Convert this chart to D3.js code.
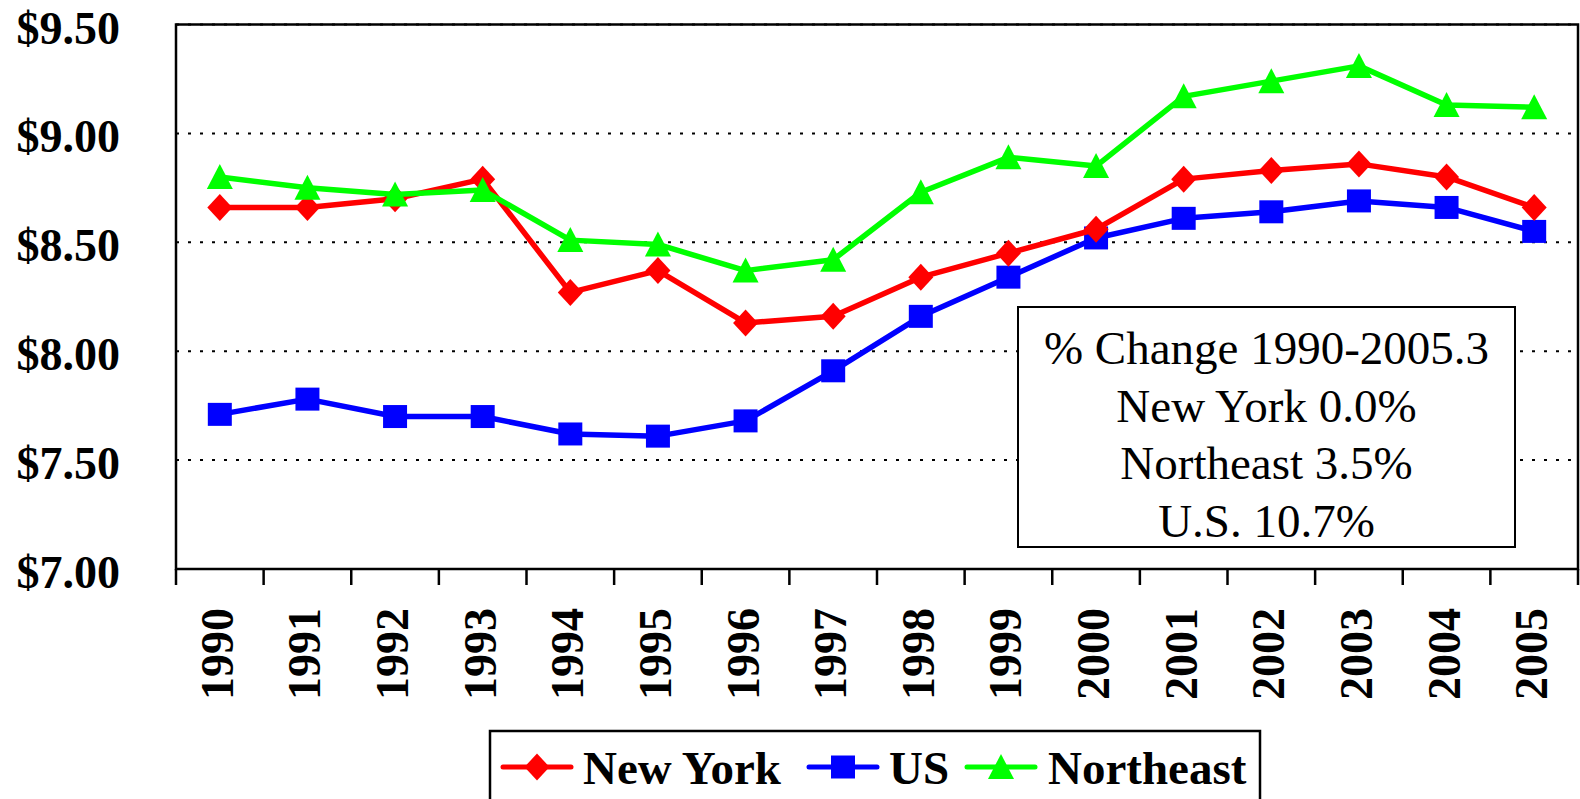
<!DOCTYPE html>
<html>
<head>
<meta charset="utf-8">
<script src="https://cdn.jsdelivr.net/npm/d3@7"></script>
<style>
  html, body { margin: 0; padding: 0; background: #fff; }
  svg { display: block; }
</style>
</head>
<body>
<svg id="chart" width="1580" height="799"></svg>
<script>
const years = ["1990","1991","1992","1993","1994","1995","1996","1997","1998","1999","2000","2001","2002","2003","2004","2005"];
const newYork   = [8.66, 8.66, 8.70, 8.79, 8.27, 8.37, 8.13, 8.16, 8.34, 8.45, 8.56, 8.79, 8.83, 8.86, 8.80, 8.66];
const us        = [7.71, 7.78, 7.70, 7.70, 7.62, 7.61, 7.68, 7.91, 8.16, 8.34, 8.52, 8.61, 8.64, 8.69, 8.66, 8.55];
const northeast = [8.80, 8.75, 8.72, 8.74, 8.51, 8.49, 8.37, 8.42, 8.73, 8.89, 8.85, 9.17, 9.24, 9.31, 9.13, 9.12];
const yTicks = [7.00, 7.50, 8.00, 8.50, 9.00, 9.50];
const seriesNames = ["New York", "US", "Northeast"];
const seriesColors = ["#FF0000", "#0000FF", "#00FF00"];
const seriesShapes = ["diamond", "square", "triangle"];
const noteLines = ["% Change 1990-2005.3", "New York 0.0%", "Northeast 3.5%", "U.S. 10.7%"];

const svg = d3.select("#chart");
const L = 176, R = 1578, T = 24.5, B = 569;

const x = d3.scaleBand().domain(years).range([L, R]).padding(0);
const y = d3.scaleLinear().domain([7, 9.5]).range([B, T]);

// gridlines (dotted)
svg.append("g").selectAll("line")
  .data(yTicks.filter(d => d > 7))
  .join("line")
  .attr("x1", L).attr("x2", R)
  .attr("y1", d => y(d)).attr("y2", d => y(d))
  .attr("stroke", "#000").attr("stroke-width", 2)
  .attr("stroke-dasharray", "3,9");

// plot border
svg.append("rect")
  .attr("x", L).attr("y", T).attr("width", R - L).attr("height", B - T)
  .attr("fill", "none").attr("stroke", "#000").attr("stroke-width", 2.5);

// x-axis tick marks at category boundaries
const bounds = years.map(d => x(d)).concat([R]);
svg.append("g").selectAll("line")
  .data(bounds)
  .join("line")
  .attr("x1", d => d).attr("x2", d => d)
  .attr("y1", B).attr("y2", B + 16)
  .attr("stroke", "#000").attr("stroke-width", 2.5);

// y-axis labels
svg.append("g").selectAll("text")
  .data(yTicks)
  .join("text")
  .attr("x", 120)
  .attr("y", d => y(d) + 19)
  .attr("text-anchor", "end")
  .attr("font-family", "'Liberation Serif', 'Times New Roman', serif")
  .attr("font-weight", "bold")
  .attr("font-size", 46)
  .text(d => "$" + d3.format(".2f")(d));

// x-axis labels (rotated)
svg.append("g").selectAll("text")
  .data(years)
  .join("text")
  .attr("transform", d => `translate(${x(d) + x.bandwidth() / 2 + 13},608) rotate(-90)`)
  .attr("text-anchor", "end")
  .attr("font-family", "'Liberation Serif', 'Times New Roman', serif")
  .attr("font-weight", "bold")
  .attr("font-size", 46)
  .text(d => d);

function markerPath(shape) {
  if (shape === "diamond") return "M0,-13.5L12.5,0L0,13.5L-12.5,0Z";
  if (shape === "square") return "M-12,-11.5L12,-11.5L12,11.5L-12,11.5Z";
  return "M0,-13L13,12L-13,12Z";
}

const data = [newYork, us, northeast];
const line = d3.line()
  .x((d, i) => x(years[i]) + x.bandwidth() / 2)
  .y(d => y(d));

// draw order: US, NY, Northeast
[1, 0, 2].forEach(si => {
  const vals = data[si];
  const g = svg.append("g");
  g.append("path")
    .datum(vals)
    .attr("d", line)
    .attr("fill", "none")
    .attr("stroke", seriesColors[si])
    .attr("stroke-width", 5.5)
    .attr("stroke-linejoin", "round");
  g.selectAll("path.m")
    .data(vals)
    .join("path")
    .attr("class", "m")
    .attr("d", markerPath(seriesShapes[si]))
    .attr("transform", (d, i) => `translate(${x(years[i]) + x.bandwidth() / 2},${y(d)})`)
    .attr("fill", seriesColors[si]);
});

// annotation box
const bx0 = 1018, bx1 = 1515, by0 = 307, by1 = 547;
svg.append("rect")
  .attr("x", bx0).attr("y", by0).attr("width", bx1 - bx0).attr("height", by1 - by0)
  .attr("fill", "#fff").attr("stroke", "#000").attr("stroke-width", 2);
svg.append("g").selectAll("text")
  .data(noteLines)
  .join("text")
  .attr("x", (bx0 + bx1) / 2)
  .attr("y", (d, i) => 364 + i * 57.5)
  .attr("text-anchor", "middle")
  .attr("font-family", "'Liberation Serif', 'Times New Roman', serif")
  .attr("font-size", 47)
  .text(d => d);

// legend
svg.append("rect")
  .attr("x", 490).attr("y", 731).attr("width", 770).attr("height", 100)
  .attr("fill", "#fff").attr("stroke", "#000").attr("stroke-width", 2.5);
const legendItems = [
  {lx: 503, tx: 583},
  {lx: 809, tx: 889},
  {lx: 967, tx: 1048}
];
const ly = 767;
legendItems.forEach((it, si) => {
  const g = svg.append("g");
  g.append("line")
    .attr("x1", it.lx).attr("x2", it.lx + 68)
    .attr("y1", ly).attr("y2", ly)
    .attr("stroke", seriesColors[si]).attr("stroke-width", 5)
    .attr("stroke-linecap", "round");
  g.append("path")
    .attr("d", markerPath(seriesShapes[si]))
    .attr("transform", `translate(${it.lx + 34},${ly})`)
    .attr("fill", seriesColors[si]);
  g.append("text")
    .attr("x", it.tx).attr("y", 784)
    .attr("font-family", "'Liberation Serif', 'Times New Roman', serif")
    .attr("font-weight", "bold")
    .attr("font-size", 47)
    .text(seriesNames[si]);
});
</script>
</body>
</html>
